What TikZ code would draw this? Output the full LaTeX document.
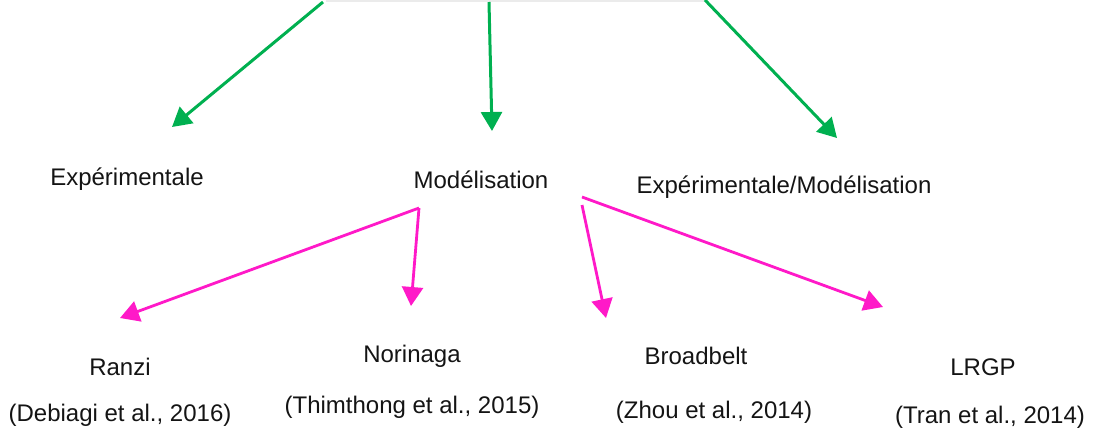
\documentclass[tikz,border=0pt]{standalone}
\usepackage{fontspec}
\setmainfont{Liberation Sans}
\usetikzlibrary{arrows.meta}
\definecolor{arrgreen}{RGB}{0,176,80}
\definecolor{arrpink}{RGB}{255,25,200}
\definecolor{txt}{RGB}{20,20,20}
\tikzset{
  lbl/.style={inner sep=0pt, anchor=base, text=txt, font=\fontsize{24}{28}\selectfont},
  garrow/.style={draw=arrgreen, line width=3pt, -{Triangle[length=19pt,width=21pt]}},
  parrow/.style={draw=arrpink, line width=2.8pt, -{Triangle[length=19pt,width=21pt]}},
}
\begin{document}
\begin{tikzpicture}[x=1pt,y=-1pt]
\useasboundingbox (0,0) rectangle (1096,432);
% faint edge of the cropped parent box
\draw[black!8, line width=2pt] (326,1) -- (704,1);
% level 1
\node[lbl] (exp) at (127,185) {Expérimentale};
\node[lbl] (mod) at (481,188) {Modélisation};
\node[lbl] (expmod) at (784,193) {Expérimentale/Modélisation};
% level 2
\node[lbl] (ranzi) at (120,375) {Ranzi};
\node[lbl] (ranzir) at (120,421) {(Debiagi et al., 2016)};
\node[lbl] (nori) at (412,362) {Norinaga};
\node[lbl] (norir) at (412,413) {(Thimthong et al., 2015)};
\node[lbl] (broad) at (696,364) {Broadbelt};
\node[lbl] (broadr) at (714,418) {(Zhou et al., 2014)};
\node[lbl] (lrgp) at (983,375) {LRGP};
\node[lbl] (lrgpr) at (990,423) {(Tran et al., 2014)};
% free ends
\coordinate (t1) at (323,2);
\coordinate (t2) at (489,2);
\coordinate (t3) at (705,0);
\coordinate (e1) at (172,127);
\coordinate (e2) at (492,131);
\coordinate (e3) at (837,138);
\coordinate (m1) at (419,208);
\coordinate (m2) at (582,205);
\coordinate (m3) at (582,197);
\coordinate (p1) at (120,318);
\coordinate (p2) at (411,306);
\coordinate (p3) at (606,318);
\coordinate (p4) at (883,307);
% green arrows
\draw[garrow] (t1) -- (e1);
\draw[garrow] (t2) -- (e2);
\draw[garrow] (t3) -- (e3);
% pink arrows
\draw[parrow] (m1) -- (p1);
\draw[parrow] (m1) -- (p2);
\draw[parrow] (m2) -- (p3);
\draw[parrow] (m3) -- (p4);
\end{tikzpicture}
\end{document}
